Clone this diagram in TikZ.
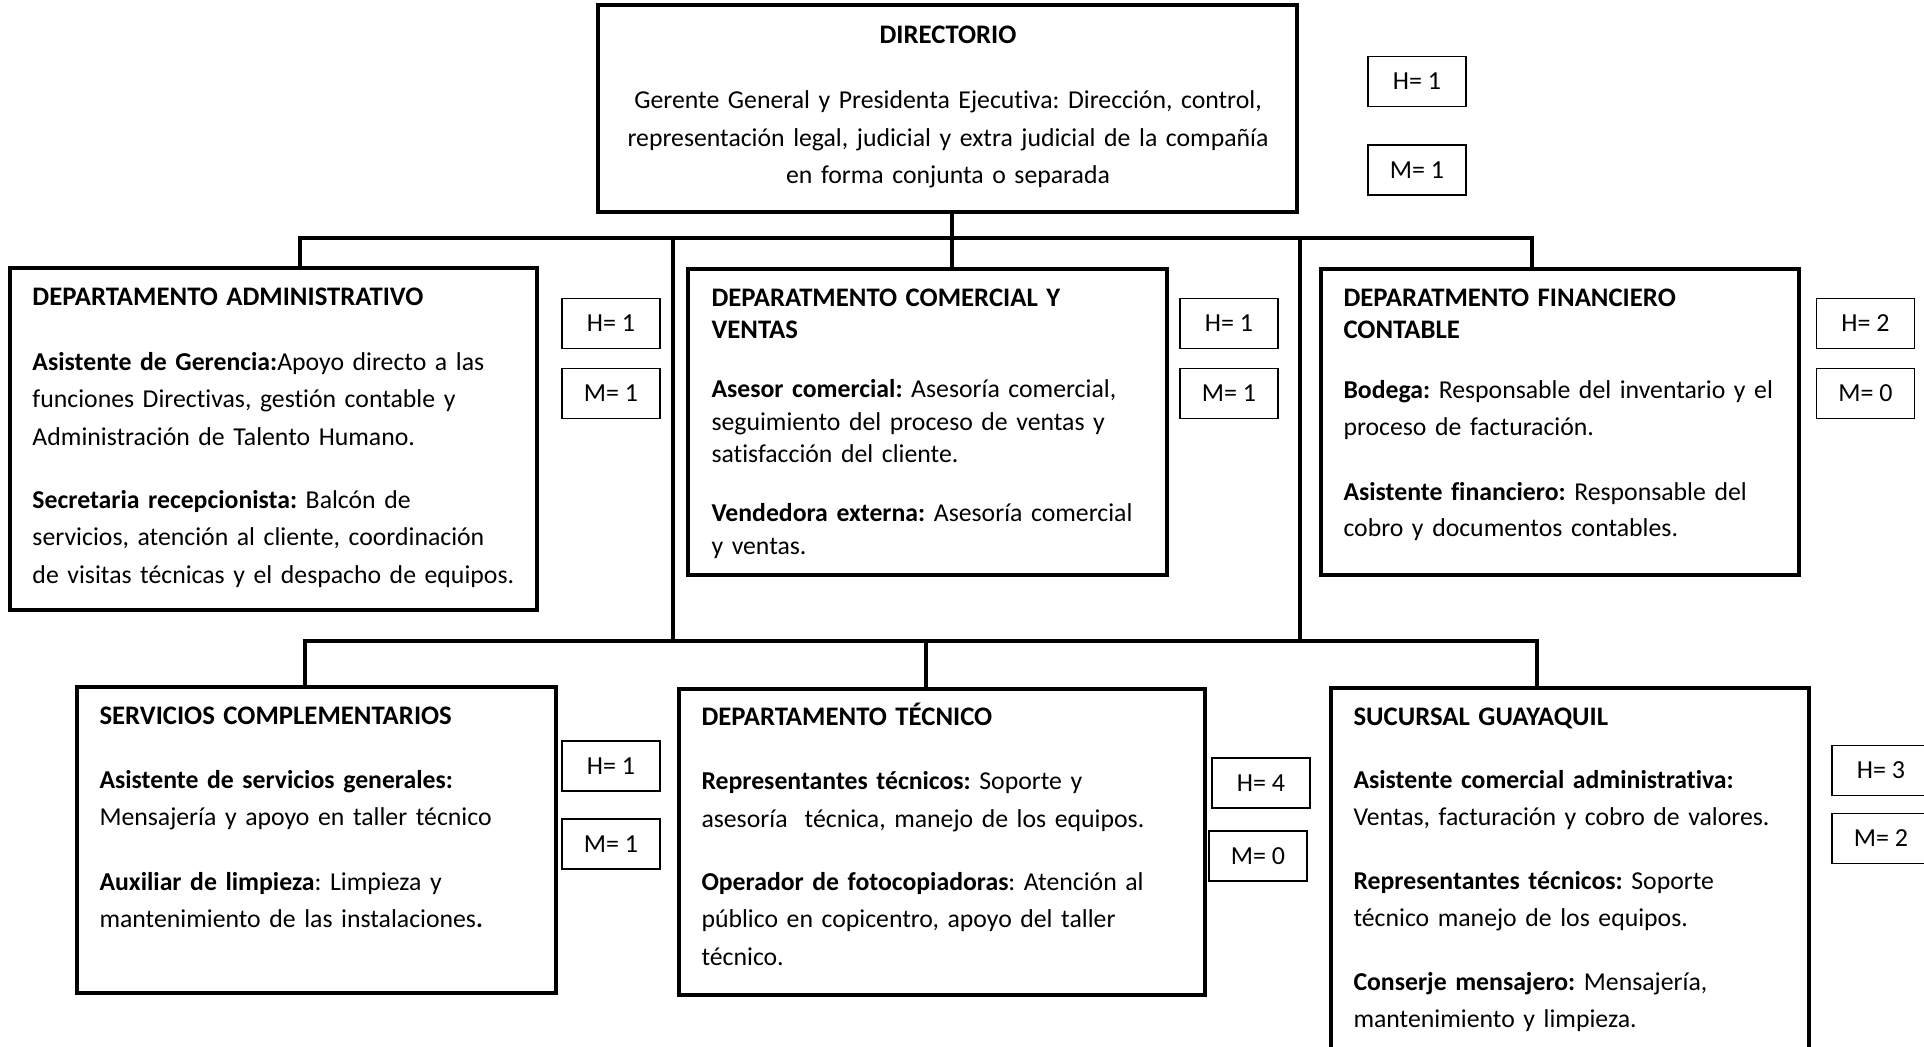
\documentclass[tikz,border=0pt]{standalone}
\usepackage{fontspec}
\setmainfont{Carlito}[Ligatures={NoCommon}]
\frenchspacing
\newcommand\ttl[1]{{\fontsize{10.7pt}{0pt}\selectfont\bfseries #1}}
\begin{document}
\begin{tikzpicture}[x=0.4pt,y=-0.4pt,
  box/.style={draw=black,line width=1.3pt,inner sep=0,rectangle},
  cnt/.style={draw=black,line width=0.7pt,inner sep=0,minimum width=39.2pt,minimum height=20pt,font=\fontsize{10.4pt}{12pt}\selectfont},
  txt/.style={inner sep=0,anchor=base west,text width=200pt,align=left},
  conn/.style={draw=black,line width=1.3pt}]
\useasboundingbox (0,0) rectangle (1924,1046);
\fill[white] (0,0) rectangle (1924,1046);
\clip (0,0) rectangle (1924,1046);

% main boxes
\node[box,minimum width=279.6pt,minimum height=82.8pt] (dir) at (947.5,108.5) {};
\node[box,minimum width=210.8pt,minimum height=136.8pt] (adm) at (273.5,439) {};
\node[box,minimum width=191.6pt,minimum height=122.4pt] (com) at (927.5,422) {};
\node[box,minimum width=191.2pt,minimum height=122.4pt] (fin) at (1560,422) {};
\node[box,minimum width=191.6pt,minimum height=122.4pt] (ser) at (316.5,840) {};
\node[box,minimum width=210.4pt,minimum height=122.4pt] (tec) at (942,842) {};
\node[box,minimum width=191.2pt,minimum height=164.8pt] (suc) at (1570,894) {};

% count boxes
\node[cnt] (dH) at (1417,81.5) {H= 1};
\node[cnt] (dM) at (1417,170) {M= 1};
\node[cnt] (aH) at (611,323.5) {H= 1};
\node[cnt] (aM) at (611,393.5) {M= 1};
\node[cnt] (cH) at (1229,323.5) {H= 1};
\node[cnt] (cM) at (1229,393.5) {M= 1};
\node[cnt] (fH) at (1865.5,323.5) {H= 2};
\node[cnt] (fM) at (1865.5,393.5) {M= 0};
\node[cnt] (sH) at (611,766) {H= 1};
\node[cnt] (sM) at (611,844) {M= 1};
\node[cnt] (tH) at (1261,783) {H= 4};
\node[cnt] (tM) at (1258,856) {M= 0};
\node[cnt] (gH) at (1881,770.5) {H= 3};
\node[cnt] (gM) at (1881,838.5) {M= 2};

% connectors
\coordinate (b1L) at (300,238);
\coordinate (b1R) at (1532,238);
\coordinate (v1) at (952,238);
\coordinate (L1) at (673,238);
\coordinate (L2) at (1300,238);
\coordinate (b2L) at (305,641);
\coordinate (b2R) at (1537,641);
\coordinate (v2) at (926,641);
\coordinate (L1b) at (673,641);
\coordinate (L2b) at (1300,641);
\draw[conn] (b1L |- adm.north) -- (b1L) -- (b1R) -- (b1R |- fin.north);
\draw[conn] (dir.south -| v1) -- (v1 |- com.north);
\draw[conn] (L1) -- (L1b);
\draw[conn] (L2) -- (L2b);
\draw[conn] (b2L |- ser.north) -- (b2L) -- (b2R) -- (b2R |- suc.north);
\draw[conn] (v2) -- (v2 |- tec.north);

% texts
\node[inner sep=0,anchor=base,text width=279pt,align=center,font=\fontsize{10.3pt}{14.9pt}\selectfont] (dirT) at (948,43.5)
{\ttl{DIRECTORIO}\\[11.2pt]
Gerente General y Presidenta Ejecutiva: Dirección, control,\\
representación legal, judicial y extra judicial de la compañía\\
en forma conjunta o separada};

\node[txt,font=\fontsize{10.3pt}{15pt}\selectfont] (admT) at (32,305)
{\ttl{DEPARTAMENTO ADMINISTRATIVO}\\[11pt]
\textbf{Asistente de Gerencia:}Apoyo directo a las\\
funciones Directivas, gestión contable y\\
Administración de Talento Humano.\\[10.3pt]
\textbf{Secretaria recepcionista:} Balcón de\\
servicios, atención al cliente, coordinación\\
de visitas técnicas y el despacho de equipos.};

\node[txt,font=\fontsize{10.3pt}{13pt}\selectfont] (comT) at (711,306)
{\ttl{DEPARATMENTO COMERCIAL Y}\\
\ttl{VENTAS}\\[10.6pt]
\textbf{Asesor comercial:} Asesoría comercial,\\
seguimiento del proceso de ventas y\\
satisfacción del cliente.\\[10.6pt]
\textbf{Vendedora externa:} Asesoría comercial\\
y ventas.};

\node[txt,font=\fontsize{10.3pt}{14.7pt}\selectfont] (finT) at (1343,306)
{\ttl{DEPARATMENTO FINANCIERO}\\[-1.6pt]
\ttl{CONTABLE}\\[9.3pt]
\textbf{Bodega:} Responsable del inventario y el\\
proceso de facturación.\\[11.1pt]
\textbf{Asistente financiero:} Responsable del\\
cobro y documentos contables.};

\node[txt,font=\fontsize{10.3pt}{14.9pt}\selectfont] (serT) at (99,724)
{\ttl{SERVICIOS COMPLEMENTARIOS}\\[10.8pt]
\textbf{Asistente de servicios generales:}\\
Mensajería y apoyo en taller técnico\\[11.1pt]
\textbf{Auxiliar de limpieza}: Limpieza y\\
mantenimiento de las instalaciones\textbf{.}};

\node[txt,font=\fontsize{10.3pt}{15pt}\selectfont] (tecT) at (701,725)
{\ttl{DEPARTAMENTO TÉCNICO}\\[10.8pt]
\textbf{Representantes técnicos:} Soporte y\\
asesoría\ \ técnica, manejo de los equipos.\\[10.2pt]
\textbf{Operador de fotocopiadoras}: Atención al\\
público en copicentro, apoyo del taller\\
técnico.};

\node[txt,font=\fontsize{10.3pt}{14.7pt}\selectfont] (sucT) at (1353,725)
{\ttl{SUCURSAL GUAYAQUIL}\\[10.8pt]
\textbf{Asistente comercial administrativa:}\\
Ventas, facturación y cobro de valores.\\[11pt]
\textbf{Representantes técnicos:} Soporte\\
técnico manejo de los equipos.\\[11pt]
\textbf{Conserje mensajero:} Mensajería,\\
mantenimiento y limpieza.};
\end{tikzpicture}
\end{document}
